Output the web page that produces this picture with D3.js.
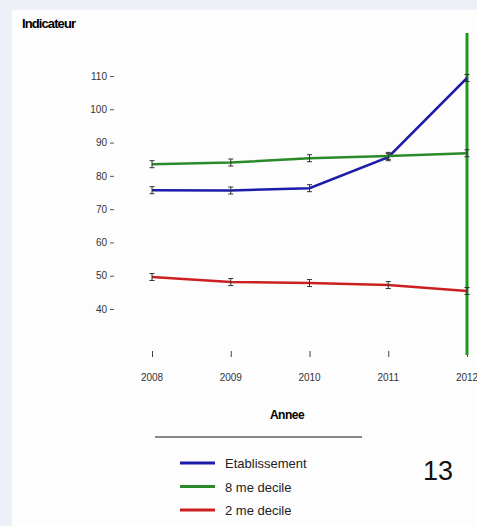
<!DOCTYPE html>
<html>
<head>
<meta charset="utf-8">
<script src="https://cdn.jsdelivr.net/npm/d3@7"></script>
<style>
  body { margin: 0; background: #eef0f8; }
  svg { display: block; font-family: "Liberation Sans", Arial, sans-serif; }
</style>
</head>
<body>
<div id="chart"></div>
<script>
// Data
const years = ["2008", "2009", "2010", "2011", "2012"];
const yTicks = [40, 50, 60, 70, 80, 90, 100, 110];
const seriesNames = ["Etablissement", "8 me decile", "2 me decile"];
const seriesColors = ["#1c1ca8", "#2a8a2a", "#cc2020"];
const etablissement = [75.7, 75.6, 76.3, 85.6, 109.4];
const decile8 = [83.5, 84, 85.3, 86, 86.8];
const decile2 = [49.6, 48.1, 47.8, 47.2, 45.4];

const width = 477;
const height = 526;

const svg = d3.select("#chart")
    .append("svg")
    .attr("width", width)
    .attr("height", height);

// white panel
svg.append("rect")
    .attr("x", 12).attr("y", 10)
    .attr("width", width - 12).attr("height", height - 10)
    .attr("fill", "#fdfdfe");

const x = d3.scalePoint().domain(years).range([152, 467]);
const y = d3.scaleLinear().domain([40, 110]).range([309, 76]);

// Title
svg.append("text")
    .attr("x", 22).attr("y", 28)
    .style("font-size", "13px")
    .style("font-weight", "bold")
    .style("letter-spacing", "-0.9px")
    .text("Indicateur");

// Y axis (ticks only, no domain line)
const yAxis = svg.append("g")
    .attr("transform", "translate(114,0)")
    .call(d3.axisLeft(y).tickValues(yTicks).tickSize(4).tickPadding(3));
yAxis.select(".domain").remove();
yAxis.selectAll("text").style("font-size", "10px").attr("fill", "#333");
yAxis.selectAll("line").attr("stroke", "#555");

// X axis
const xAxis = svg.append("g")
    .attr("transform", "translate(0,357)")
    .call(d3.axisTop(x).tickSize(6).tickFormat(""));
xAxis.select(".domain").remove();
xAxis.selectAll("line").attr("stroke", "#444");

svg.append("g").selectAll("text")
    .data(years)
    .join("text")
    .attr("x", d => x(d))
    .attr("y", 381)
    .attr("text-anchor", "middle")
    .style("font-size", "10px")
    .attr("fill", "#333")
    .text(d => d);

svg.append("text")
    .attr("x", 287).attr("y", 419)
    .attr("text-anchor", "middle")
    .style("font-size", "12px")
    .style("font-weight", "bold")
    .style("letter-spacing", "-0.5px")
    .text("Annee");

// Lines
const allSeries = [etablissement, decile8, decile2];
const line = d3.line()
    .x((d, i) => x(years[i]))
    .y(d => y(d));

// vertical green line at last year
svg.append("line")
    .attr("x1", x("2012")).attr("x2", x("2012"))
    .attr("y1", 33).attr("y2", 355)
    .attr("stroke", "#1f9a1f")
    .attr("stroke-width", 3);

allSeries.forEach((vals, s) => {
    svg.append("path")
        .datum(vals)
        .attr("fill", "none")
        .attr("stroke", seriesColors[s])
        .attr("stroke-width", 2.5)
        .attr("d", line);

    // small point markers
    svg.append("g").selectAll("path")
        .data(vals)
        .join("path")
        .attr("d", (d, i) => {
            const px = x(years[i]), py = y(d);
            return `M${px - 2.5},${py - 3.5}L${px + 2.5},${py - 3.5}M${px},${py - 3.5}L${px},${py + 3.5}M${px - 2.5},${py + 3.5}L${px + 2.5},${py + 3.5}`;
        })
        .attr("stroke", "#333")
        .attr("stroke-width", 1)
        .attr("fill", "none");
});

// Legend
svg.append("line")
    .attr("x1", 155).attr("x2", 362)
    .attr("y1", 437).attr("y2", 437)
    .attr("stroke", "#111")
    .attr("stroke-width", 1.2);

const legend = svg.append("g").selectAll("g")
    .data(seriesNames)
    .join("g")
    .attr("transform", (d, i) => `translate(180,${463 + i * 23.5})`);

legend.append("line")
    .attr("x1", 0).attr("x2", 35)
    .attr("stroke", (d, i) => seriesColors[i])
    .attr("stroke-width", 3);

legend.append("text")
    .attr("x", 45).attr("y", 5)
    .style("font-size", "13px")
    .attr("fill", "#222")
    .text(d => d);

svg.append("text")
    .attr("x", 438).attr("y", 480)
    .attr("text-anchor", "middle")
    .style("font-size", "27px")
    .attr("fill", "#111")
    .text("13");
</script>
</body>
</html>
